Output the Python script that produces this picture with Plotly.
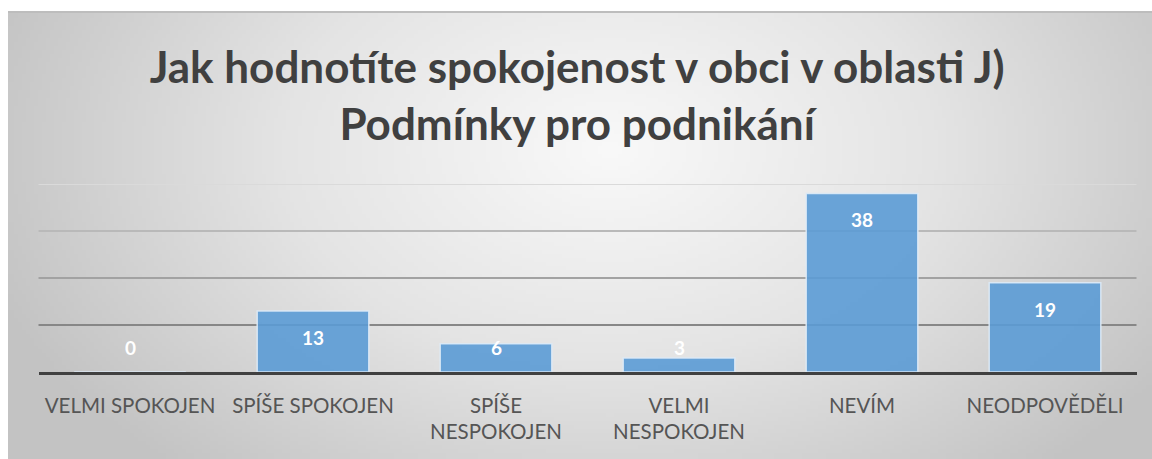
import base64
import struct
import zlib

import numpy as np
import plotly.graph_objects as go

categories = ["VELMI SPOKOJEN", "SPÍŠE SPOKOJEN", "SPÍŠE<br>NESPOKOJEN",
              "VELMI<br>NESPOKOJEN", "NEVÍM", "NEODPOVĚDĚLI"]
values = [0, 13, 6, 3, 38, 19]
grid_values = [10, 20, 30, 40]
grid_colors = ["#878787", "#a2a2a2", "#b9b9b9", "#dadada"]
title_text = "Jak hodnotíte spokojenost v obci v oblasti J)<br>Podmínky pro podnikání"

W, H = 1152, 459
FONT = "Lato"


def gradient_png(w, h):
    """Radial grey background gradient (style only) as a PNG data URI."""
    xs = (np.arange(w) + 0.5) / w * 1144 + 8
    ys = (np.arange(h) + 0.5) / h * 447 + 12
    X, Y = np.meshgrid(xs, ys)
    t = np.clip(np.sqrt(((X - 610) / 660) ** 2 + ((Y - 150) / 430) ** 2), 0, 1)
    g = np.where(t < 0.5, 249 - (249 - 228) * t / 0.5, 228 - (228 - 195) * (t - 0.5) / 0.5)
    g = g.astype(np.uint8)
    raw = b"".join(b"\x00" + bytes(np.repeat(row, 3)) for row in g)

    def chunk(tag, data):
        c = struct.pack(">I", len(data)) + tag + data
        return c + struct.pack(">I", zlib.crc32(tag + data) & 0xFFFFFFFF)

    png = (b"\x89PNG\r\n\x1a\n" + chunk(b"IHDR", struct.pack(">IIBBBBB", w, h, 8, 2, 0, 0, 0))
           + chunk(b"IDAT", zlib.compress(raw, 9)) + chunk(b"IEND", b""))
    return "data:image/png;base64," + base64.b64encode(png).decode()


fig = go.Figure()
fig.add_trace(go.Bar(
    x=categories, y=values,
    marker=dict(color="rgba(91,155,213,0.9)",
                line=dict(color="rgba(222,235,247,0.9)", width=1.5)),
    width=0.61, hoverinfo="x+y"))

annotations = []
for i, v in enumerate(values):
    annotations.append(dict(
        x=i, y=max(v, 10.9), xref="x", yref="y", text=f"<b>{v}</b>",
        showarrow=False, yanchor="top", yshift=-13,
        font=dict(family=FONT, size=19, color="white")))

shapes = []
for gv, gc in zip(grid_values, grid_colors):
    shapes.append(dict(type="line", xref="x domain", yref="y", x0=0, x1=1,
                       y0=gv, y1=gv, line=dict(color=gc, width=2), layer="below"))
# chart frame top edge
shapes.append(dict(type="line", xref="paper", yref="paper", x0=8 / W, x1=1,
                   y0=1 - 12 / H, y1=1 - 12 / H, line=dict(color="#bdbdbd", width=2)))

fig.update_layout(
    width=W, height=H,
    margin=dict(l=0, r=0, t=0, b=0),
    paper_bgcolor="white", plot_bgcolor="rgba(0,0,0,0)",
    showlegend=False,
    images=[dict(source=gradient_png(286, 112), xref="paper", yref="paper",
                 x=8 / W, y=1 - 12 / H, sizex=1 - 8 / W, sizey=1 - 12 / H,
                 xanchor="left", yanchor="top", sizing="stretch", layer="below")],
    title=dict(text=f"<b>{title_text}</b>", x=0.501, xanchor="center",
               y=1 - 83 / H, yanchor="middle",
               font=dict(family=FONT, size=44, color="#404040")),
    xaxis=dict(domain=[38.5 / W, 1136.5 / W], showgrid=False,
               showline=True, linecolor="#404040", linewidth=3,
               ticks="", ticklabelstandoff=13, fixedrange=True,
               tickfont=dict(family=FONT, size=20.5, color="#555555")),
    yaxis=dict(domain=[1 - 372 / H, 1 - 184 / H], range=[0, 40], fixedrange=True,
               showgrid=False, showticklabels=False, zeroline=False, ticks=""),
    annotations=annotations,
    shapes=shapes,
    bargap=0.39,
)

fig.write_html("out.html", config={"displayModeBar": False},
               post_script="document.body.style.margin='0px';document.body.style.overflow='hidden';")
